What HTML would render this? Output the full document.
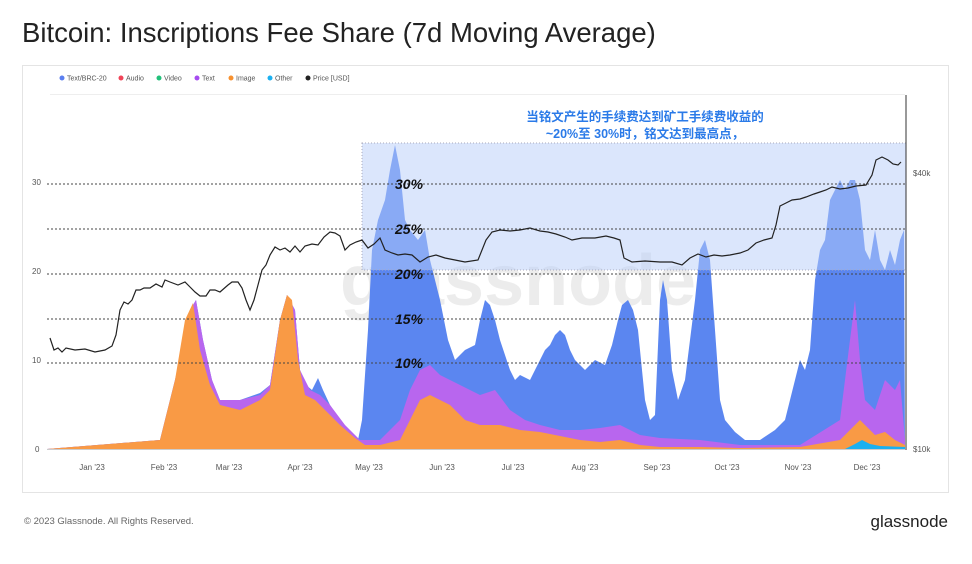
<!DOCTYPE html>
<html><head><meta charset="utf-8"><style>
body{margin:0;background:#fff;font-family:"Liberation Sans",sans-serif;}
</style></head><body>
<svg width="972" height="559" xmlns="http://www.w3.org/2000/svg" font-family="Liberation Sans, Noto Sans CJK SC, sans-serif">
<rect width="972" height="559" fill="#fff"/>
<text x="22" y="42" font-size="27.5" fill="#222">Bitcoin: Inscriptions Fee Share (7d Moving Average)</text>
<rect x="22.5" y="65.5" width="926" height="427" fill="none" stroke="#e4e4e4"/>
<g font-size="7" fill="#555">
<circle cx="62" cy="78" r="2.5" fill="#5b7ff0"/><text x="67" y="80.5">Text/BRC-20</text>
<circle cx="121" cy="78" r="2.5" fill="#f04458"/><text x="126" y="80.5">Audio</text>
<circle cx="159" cy="78" r="2.5" fill="#22c07a"/><text x="164" y="80.5">Video</text>
<circle cx="197" cy="78" r="2.5" fill="#a64cf0"/><text x="202" y="80.5">Text</text>
<circle cx="231" cy="78" r="2.5" fill="#f79130"/><text x="236" y="80.5">Image</text>
<circle cx="270" cy="78" r="2.5" fill="#1bb0f0"/><text x="275" y="80.5">Other</text>
<circle cx="308" cy="78" r="2.5" fill="#222"/><text x="313" y="80.5">Price [USD]</text>
</g>
<line x1="50" y1="94.5" x2="905" y2="94.5" stroke="#eee"/>
<text x="340" y="305" font-size="72" fill="#000" opacity="0.07" font-weight="bold">glassnode</text>
<path d="M47,449 L160,440 180,360 190,310 196,300 203,340 212,380 220,400 240,400 260,393 270,385 280,320 287,295 295,310 300,370 306,385 312,390 318,378 323,390 330,405 340,420 350,432 358,440 362,420 368,330 372,250 378,220 385,200 390,170 395,145 400,170 405,220 410,230 418,240 425,230 430,260 440,300 448,340 455,360 465,350 475,345 480,320 485,300 490,305 495,320 500,340 505,355 510,370 515,380 520,375 530,380 540,360 545,350 550,345 555,335 560,330 565,335 570,350 575,360 585,370 595,360 605,365 612,345 618,320 622,305 628,300 633,310 638,330 645,400 650,420 655,415 660,300 663,280 667,300 672,370 678,400 685,380 690,340 695,300 700,250 705,240 710,260 715,330 720,400 725,420 735,432 745,440 760,440 775,430 785,420 795,380 800,360 805,370 810,350 815,280 820,250 825,240 830,200 835,190 840,180 845,190 850,180 855,180 860,200 865,250 870,260 875,230 880,260 885,270 890,250 895,265 900,240 904,230 905,449 Z" fill="#5b86f0"/>
<path d="M47,449 L160,440 180,360 190,310 196,300 203,340 212,380 220,400 240,400 260,395 270,385 280,320 287,295 295,310 300,370 310,390 320,395 330,405 345,425 360,440 380,440 400,420 410,390 420,370 430,365 440,375 450,380 460,385 470,390 480,395 495,390 510,410 525,420 540,425 560,430 580,430 600,428 620,425 640,435 660,438 700,440 740,445 800,445 840,420 855,300 860,360 865,400 875,410 885,380 895,390 900,380 905,440 905,449 Z" fill="#b866ee"/>
<path d="M47,449 L160,440 175,380 185,320 193,303 200,350 210,385 220,405 240,410 260,400 270,390 280,320 287,295 292,300 298,360 305,395 315,400 325,410 340,425 355,438 365,445 380,445 400,440 410,420 420,400 430,395 440,400 450,405 465,420 480,425 500,425 520,430 540,432 560,436 580,440 600,442 620,440 640,445 660,447 700,447 740,448 800,447 840,440 850,430 860,420 865,425 875,435 885,432 895,440 905,445 905,449 Z" fill="#f99a45"/>
<path d="M845,449 L855,444 862,440 870,444 880,446 905,447 905,449Z" fill="#1bb0f0"/>
<rect x="362" y="143" width="544" height="127" fill="#b8cdfa" fill-opacity="0.5" stroke="#aab" stroke-dasharray="1,2"/>
<g fill="#555" font-size="8">
<text x="32" y="185">30</text><text x="32" y="274">20</text><text x="32" y="363">10</text><text x="35" y="452">0</text>
<text x="913" y="176">$40k</text><text x="913" y="452">$10k</text>
</g>
<g stroke="#444" stroke-dasharray="2,2" stroke-width="1">
<line x1="47" y1="184" x2="905" y2="184"/><line x1="47" y1="229" x2="905" y2="229"/><line x1="47" y1="274" x2="905" y2="274"/><line x1="47" y1="319" x2="905" y2="319"/><line x1="47" y1="363" x2="905" y2="363"/>
</g>
<line x1="47" y1="449.5" x2="905" y2="449.5" stroke="#ccc"/>
<line x1="906" y1="95" x2="906" y2="450" stroke="#333"/>
<polyline fill="none" stroke="#222" stroke-width="1.2" points="50,338 54,350 58,348 62,352 66,348 75,350 85,349 95,352 105,350 112,346 116,335 120,310 124,302 128,304 132,300 136,290 140,290 144,288 150,288 156,284 162,287 165,280 170,282 178,285 185,282 190,287 195,292 200,296 206,296 210,290 215,290 220,292 228,285 232,282 238,282 242,288 246,300 250,310 254,300 258,285 262,270 266,265 270,255 275,247 280,250 285,248 290,252 295,246 300,252 305,246 312,244 318,245 324,237 330,232 335,233 340,236 345,250 350,245 356,242 362,240 368,248 374,244 380,238 385,250 392,253 398,255 405,254 412,255 420,262 428,257 436,255 445,258 455,260 465,262 478,260 486,240 492,232 500,230 510,231 520,230 530,228 540,231 548,232 556,234 565,237 572,240 582,238 595,238 606,236 614,238 620,240 624,258 632,262 645,261 660,262 672,262 682,265 690,258 698,254 706,257 714,255 722,256 730,255 740,253 748,250 756,243 764,240 772,238 776,225 780,206 786,203 792,200 800,199 806,197 814,194 820,192 826,190 832,187 840,189 848,188 856,186 866,185 872,175 876,160 882,157 888,160 893,164 898,165 901,162"/>
<g font-size="14" font-weight="bold" font-style="italic" fill="#111">
<text x="395" y="189">30%</text><text x="395" y="234">25%</text><text x="395" y="279">20%</text><text x="395" y="324">15%</text><text x="395" y="368">10%</text>
</g>
<g font-size="12.5" font-weight="bold" fill="#2a7ae8" text-anchor="middle">
<text x="645" y="121">当铭文产生的手续费达到矿工手续费收益的</text>
<text x="645" y="138">~20%至 30%时，铭文达到最高点，</text>
</g>
<g font-size="8" fill="#555" text-anchor="middle">
<text x="92" y="470">Jan '23</text><text x="164" y="470">Feb '23</text><text x="229" y="470">Mar '23</text><text x="300" y="470">Apr '23</text><text x="369" y="470">May '23</text><text x="442" y="470">Jun '23</text><text x="513" y="470">Jul '23</text><text x="585" y="470">Aug '23</text><text x="657" y="470">Sep '23</text><text x="727" y="470">Oct '23</text><text x="798" y="470">Nov '23</text><text x="867" y="470">Dec '23</text>
</g>
<text x="24" y="524" font-size="9.5" fill="#666">© 2023 Glassnode. All Rights Reserved.</text>
<text x="948" y="527" font-size="17" fill="#222" text-anchor="end">glassnode</text>
</svg>
</body></html>
